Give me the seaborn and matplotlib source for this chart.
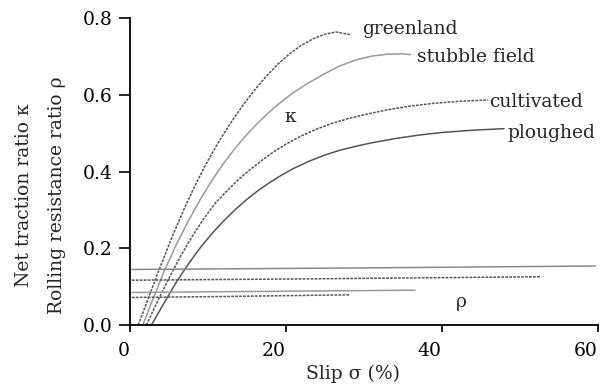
import numpy as np
import pandas as pd
import matplotlib
matplotlib.use("Agg")
import matplotlib.pyplot as plt
import seaborn as sns

# ---- data ----
greenland_x = [1.1, 2.5, 4.0, 5.5, 7.0, 8.5, 10.0, 11.5, 13.0, 14.5, 16.0, 17.5, 19.0, 20.5, 22.0, 23.5, 25.0, 26.5, 28.3]
greenland_k = [0.0, 0.075, 0.155, 0.232, 0.303, 0.368, 0.427, 0.48, 0.528, 0.572, 0.612, 0.648, 0.68, 0.707, 0.729, 0.746, 0.758, 0.764, 0.757]

stubble_x = [1.7, 3.0, 4.5, 6.0, 7.5, 9.0, 10.5, 12.0, 13.5, 15.0, 16.5, 18.0, 19.5, 21.0, 23.0, 25.0, 27.0, 29.0, 31.0, 33.0, 35.0, 36.0]
stubble_k = [0.0, 0.068, 0.143, 0.21, 0.27, 0.325, 0.375, 0.42, 0.46, 0.496, 0.528, 0.557, 0.583, 0.606, 0.632, 0.655, 0.676, 0.691, 0.701, 0.706, 0.707, 0.705]

cultivated_x = [2.15, 3.5, 5.0, 6.5, 8.0, 9.5, 11.0, 12.5, 14.0, 15.5, 17.0, 18.5, 20.0, 22.0, 24.0, 26.0, 28.0, 30.0, 33.0, 36.0, 39.0, 42.0, 46.0]
cultivated_k = [0.0, 0.058, 0.12, 0.178, 0.23, 0.277, 0.318, 0.35, 0.38, 0.406, 0.43, 0.452, 0.471, 0.493, 0.511, 0.526, 0.538, 0.548, 0.561, 0.571, 0.578, 0.583, 0.587]

ploughed_x = [2.8, 4.5, 6.0, 7.5, 9.0, 10.5, 12.0, 13.5, 15.0, 16.5, 18.0, 19.5, 21.0, 23.0, 25.0, 27.0, 29.0, 31.0, 34.0, 37.0, 40.0, 44.0, 48.0]
ploughed_k = [0.0, 0.06, 0.112, 0.158, 0.2, 0.237, 0.27, 0.3, 0.327, 0.351, 0.372, 0.391, 0.408, 0.427, 0.443, 0.456, 0.466, 0.475, 0.486, 0.495, 0.502, 0.508, 0.512]

rho_greenland_x = [0.3, 14.0, 28.3]
rho_greenland = [0.072, 0.075, 0.079]
rho_stubble_x = [0.3, 18.0, 36.6]
rho_stubble = [0.085, 0.088, 0.091]
rho_cultivated_x = [0.3, 26.0, 52.8]
rho_cultivated = [0.117, 0.121, 0.126]
rho_ploughed_x = [0.3, 30.0, 59.7]
rho_ploughed = [0.145, 0.149, 0.154]

labels = ["greenland", "stubble field", "cultivated", "ploughed"]
label_x = [29.8, 36.9, 46.1, 48.4]
label_y = [0.773, 0.698, 0.582, 0.502]

xticks = [0, 20, 40, 60]
yticks = [0.0, 0.2, 0.4, 0.6, 0.8]

# ---- style ----
sns.set_style("ticks")
plt.rcParams["font.family"] = ["DejaVu Serif"]
plt.rcParams["font.size"] = 13.5

fig = plt.figure(figsize=(6.11, 3.87), dpi=100)
ax = fig.add_axes([0.212, 0.160, 0.766, 0.793])

dark = "#555555"
light = "#9a9a9a"
mid = "#888888"
dots = (0, (1.8, 0.8))

series = [
    (greenland_x, greenland_k, dark, dots),
    (stubble_x, stubble_k, light, "-"),
    (cultivated_x, cultivated_k, dark, dots),
    (ploughed_x, ploughed_k, dark, "-"),
    (rho_greenland_x, rho_greenland, dark, dots),
    (rho_stubble_x, rho_stubble, light, "-"),
    (rho_cultivated_x, rho_cultivated, dark, dots),
    (rho_ploughed_x, rho_ploughed, mid, "-"),
]
for xs, ys, c, ls in series:
    sns.lineplot(x=xs, y=ys, ax=ax, color=c, linestyle=ls, linewidth=1.1,
                 sort=False, estimator=None)

for t, x, y in zip(labels, label_x, label_y):
    ax.text(x, y, t, ha="left", va="center", fontsize=13.5)

ax.text(20.6, 0.542, "κ", ha="center", va="center", fontsize=13.5)
ax.text(42.6, 0.061, "ρ", ha="center", va="center", fontsize=13.5)

ax.set_xlim(0, 60)
ax.set_ylim(0, 0.8)
ax.set_xticks(xticks)
ax.set_xticklabels([str(v) for v in xticks], ha="right")
ax.set_yticks(yticks)
ax.set_yticklabels([f"{v:.1f}" for v in yticks])
ax.tick_params(axis="x", length=5, width=1.2, pad=7, colors="black", labelsize=13.5)
ax.tick_params(axis="y", length=8, width=1.2, pad=4, colors="black", labelsize=13.5)
sns.despine(ax=ax)
for s in ["left", "bottom"]:
    ax.spines[s].set_linewidth(1.3)
    ax.spines[s].set_color("black")

ax.set_xlabel("Slip σ (%)", fontsize=13.5)
ax.xaxis.set_label_coords((353 - 129.5) / 468, -0.13)

fig.text(24 / 611, 0.496, "Net traction ratio κ", rotation=90, ha="center", va="center", fontsize=13.5)
fig.text(57 / 611, 0.496, "Rolling resistance ratio ρ", rotation=90, ha="center", va="center", fontsize=13.5)

fig.savefig("out.png", dpi=100)
